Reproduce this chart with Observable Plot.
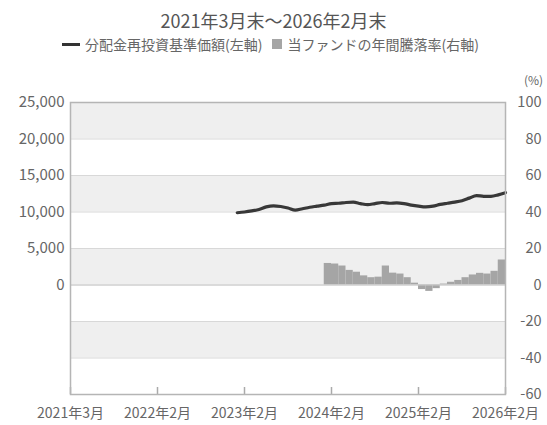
<!DOCTYPE html>
<html><head><meta charset="utf-8">
<script src="https://cdn.jsdelivr.net/npm/d3@7"></script>
<script src="https://cdn.jsdelivr.net/npm/@observablehq/plot@0.6"></script>
<style>
body{margin:0;background:#fff;font-family:"Noto Sans CJK JP","Noto Sans",sans-serif;color:#555;}
#wrap{position:relative;width:547px;height:425px;}
#title{position:absolute;left:0;top:8px;width:547px;text-align:center;font-size:18px;line-height:24px;color:#555;}
#legend{position:absolute;left:62px;top:35px;font-size:14px;line-height:18px;display:flex;align-items:center;white-space:nowrap;color:#666;}
.sw-line{display:inline-block;width:18px;height:3px;background:#333;margin-right:5px;}
.sw-box{display:inline-block;width:10px;height:10px;background:#a5a5a5;margin:0 5px 0 10px;}
#unit{position:absolute;left:524px;top:73px;font-size:12px;line-height:13px;color:#666;}
#chart{position:absolute;left:0;top:60px;}
</style></head>
<body><div id="wrap">
<div id="title">2021年3月末〜2026年2月末</div>
<div id="legend"><span class="sw-line"></span>分配金再投資基準価額(左軸)<span class="sw-box"></span>当ファンドの年間騰落率(右軸)</div>
<div id="unit">(%)</div>
<div id="chart"></div>
</div>
<script>
// month index: 0 = 2021年3月 start, 60 = 2026年2月末
const xTicks = [0, 12, 24, 36, 48, 60];
const xTickLabels = ["2021年3月", "2022年2月", "2023年2月", "2024年2月", "2025年2月", "2026年2月"];
const yTicksLeft = [-15000, -10000, -5000, 0, 5000, 10000, 15000, 20000, 25000];
const yTicksRight = [-60, -40, -20, 0, 20, 40, 60, 80, 100];
const rightScale = 250; // 1% = 250 yen on the left axis

// 分配金再投資基準価額 (month index start, monthly values)
const navStart = 23;
const navValues = [9900, 10000, 10150, 10350, 10700, 10850, 10750, 10550, 10250, 10450,
  10650, 10800, 10950, 11150, 11200, 11300, 11350, 11150, 11000, 11150,
  11300, 11200, 11250, 11150, 10950, 10800, 10700, 10800, 11050, 11200,
  11350, 11550, 11900, 12250, 12150, 12150, 12350, 12650];

// 年間騰落率 (%)
const retStart = 35;
const retValues = [11.8, 11.5, 10.4, 8.0, 7.0, 5.0, 4.0, 4.3, 10.4, 6.5,
  6.0, 4.0, 1.0, -2.5, -3.5, -2.0, 0.5, 1.5, 2.5, 4.0,
  5.5, 6.4, 6.0, 7.5, 13.7];

const nav = navValues.map((v, i) => ({m: navStart + i, v}));
const ret = retValues.map((v, i) => ({m: retStart + i, v}));
const bands = [];
for (let i = yTicksLeft.length - 1; i > 0; i -= 2) bands.push({y1: yTicksLeft[i], y2: yTicksLeft[i - 1]});
const yMin = yTicksLeft[0];

const font = '"Noto Sans CJK JP","Noto Sans",sans-serif';
const plot = Plot.plot({
  width: 547, height: 365,
  marginLeft: 70, marginRight: 42, marginTop: 42, marginBottom: 31,
  style: {fontFamily: font, fontSize: "15px", color: "#666", background: "transparent"},
  x: {type: "linear", domain: [0, 60]},
  y: {domain: [-15000, 25000]},
  marks: [
    Plot.rect(bands, {y1: "y1", y2: "y2", fill: "#efefef"}),
    Plot.ruleY(yTicksLeft, {stroke: "#d8d8d8", strokeWidth: 1}),
    Plot.rectY(ret, {x1: "m", x2: d => d.m + 1, y1: 0, y2: d => d.v * rightScale, fill: "#a5a5a5", inset: 0}),
    Plot.ruleY([0], {stroke: "#cccccc"}),
    Plot.line(nav, {x: "m", y: "v", stroke: "#383838", strokeWidth: 3.2, curve: "monotone-x"}),
    Plot.ruleX(xTicks, {x: d => d, y1: () => yMin, y2: () => yMin, insetTop: -7, stroke: "#aaa", strokeWidth: 1.5}),
    Plot.frame({stroke: "#b5b5b5", strokeWidth: 1.5}),
    Plot.axisY(yTicksLeft, {anchor: "left", tickSize: 0, tickPadding: 6, label: null,
      tickFormat: d => d3.format(",")(d), fontSize: 15, filter: d => d >= 0}),
    Plot.axisY(yTicksLeft, {anchor: "right", tickSize: 0, tickPadding: 0, label: null,
      tickFormat: d => String(d / rightScale), textAnchor: "end", dx: 36, fontSize: 14.5}),
    Plot.axisX(xTicks, {anchor: "bottom", tickSize: 0, tickPadding: 14, label: null,
      tickFormat: d => xTickLabels[xTicks.indexOf(d)], fontSize: 14})
  ]
});
document.getElementById("chart").appendChild(plot);
</script>
</body></html>
